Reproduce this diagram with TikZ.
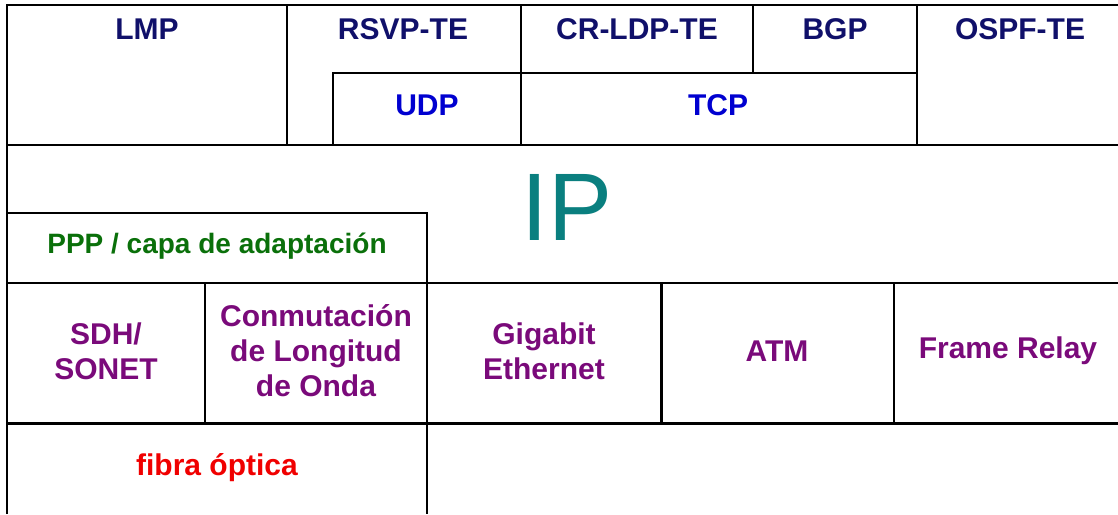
\documentclass[tikz,border=0pt]{standalone}
\usepackage{fontspec}
\setmainfont{Liberation Sans}
\definecolor{navyblue}{HTML}{10106A}
\definecolor{brightblue}{HTML}{0000D0}
\definecolor{tealip}{HTML}{0A7F7F}
\definecolor{pppgreen}{HTML}{0A700A}
\definecolor{linkpurple}{HTML}{7A0A7A}
\definecolor{fibrered}{HTML}{F00000}
\begin{document}
\begin{tikzpicture}[x=0.5pt,y=-0.5pt,
  grid/.style={line width=1pt},
  thick grid/.style={line width=1.5pt},
  proto/.style={font=\bfseries\fontsize{15}{18}\selectfont,text=navyblue},
  transport/.style={font=\bfseries\fontsize{15}{18}\selectfont,text=brightblue},
  link/.style={font=\bfseries\fontsize{15}{17.5}\selectfont,text=linkpurple,align=center}]
	\useasboundingbox (0,0) rectangle (1118,514);
	% lines of the table
	\draw[grid] (7,514)--(7,5)--(1118,5);
	\draw[grid] (287,5)--(287,145);
	\draw[grid] (521,5)--(521,145);
	\draw[grid] (753,5)--(753,73);
	\draw[grid] (917,5)--(917,145);
	\draw[grid] (333,145)--(333,73)--(917,73);
	\draw[grid] (7,145)--(1118,145);
	\draw[grid] (7,213)--(427,213)--(427,283);
	\draw[grid] (7,283)--(1118,283);
	\draw[grid] (205,283)--(205,423);
	\draw[grid] (427,283)--(427,514);
	\draw[thick grid] (661,283)--(661,423);
	\draw[grid] (894,283)--(894,423);
	\draw[thick grid] (7,423)--(1118,423);
	% labels
	\node[proto] (lmp) at (147,29) {LMP};
	\node[proto] (rsvp) at (403,29) {RSVP-TE};
	\node[proto] (crldp) at (637,29) {CR-LDP-TE};
	\node[proto] (bgp) at (835,29) {BGP};
	\node[proto] (ospf) at (1020,29) {OSPF-TE};
	\node[transport] (udp) at (427,105) {UDP};
	\node[transport] (tcp) at (718,105) {TCP};
	\node[font=\fontsize{48}{50}\selectfont,text=tealip] (ip) at (567,207) {IP};
	\node[font=\bfseries\fontsize{14}{16}\selectfont,text=pppgreen] (ppp) at (217,246) {PPP / capa de adaptación};
	\node[link] (sdh) at (106,351) {SDH/\\SONET};
	\node[link] (wdm) at (316,351) {Conmutación\\de Longitud\\de Onda};
	\node[link] (gbe) at (544,351) {Gigabit\\Ethernet};
	\node[link] (atm) at (777,351) {ATM};
	\node[link] (fr) at (1008,351) {Frame Relay};
	\node[font=\bfseries\fontsize{15}{18}\selectfont,text=fibrered] (fibra) at (217,468) {fibra óptica};
\end{tikzpicture}
\end{document}
